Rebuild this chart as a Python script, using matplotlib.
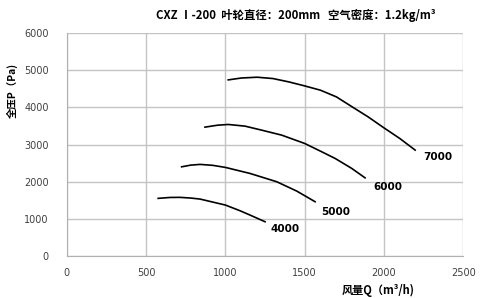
import matplotlib.pyplot as plt

plt.rcParams['font.family'] = ['Noto Sans CJK SC', 'DejaVu Sans']

# Fan curves: flow Q (m3/h) vs total pressure P (Pa)
q_7000 = [1018, 1100, 1200, 1300, 1400, 1500, 1600, 1700, 1800, 1900, 2000, 2100, 2197]
p_7000 = [4740, 4790, 4812, 4776, 4686, 4578, 4462, 4283, 4013, 3745, 3449, 3163, 2850]

q_6000 = [871, 950, 1018, 1124, 1229, 1355, 1500, 1608, 1692, 1797, 1881]
p_6000 = [3468, 3520, 3540, 3495, 3387, 3253, 3029, 2804, 2626, 2357, 2103]

q_5000 = [724, 780, 840, 920, 1000, 1155, 1324, 1450, 1566]
p_5000 = [2400, 2445, 2465, 2440, 2384, 2222, 1998, 1747, 1460]

q_4000 = [576, 650, 713, 780, 840, 1000, 1092, 1155, 1250]
p_4000 = [1551, 1575, 1578, 1560, 1532, 1371, 1218, 1102, 922]

speeds = ['7000', '6000', '5000', '4000']
label_q = [2245, 1932, 1604, 1282]
label_p = [2653, 1863, 1191, 726]

x_ticks = [0, 500, 1000, 1500, 2000, 2500]
y_ticks = [0, 1000, 2000, 3000, 4000, 5000, 6000]

fig = plt.figure(figsize=(4.81, 2.98), dpi=100)
ax = fig.add_axes([0.139, 0.141, 0.824, 0.748])

for q, p in [(q_7000, p_7000), (q_6000, p_6000), (q_5000, p_5000), (q_4000, p_4000)]:
    ax.plot(q, p, color='black', linewidth=1.2, solid_joinstyle='round')

for s, lq, lp in zip(speeds, label_q, label_p):
    ax.text(lq, lp, s, fontsize=7.5, fontweight='bold', family='DejaVu Sans',
            ha='left', va='center', color='black')

ax.set_xlim(0, 2500)
ax.set_ylim(0, 6000)
ax.set_xticks(x_ticks)
ax.set_yticks(y_ticks)
ax.grid(True, color='#c4c4c4', linewidth=1)
ax.set_axisbelow(True)
for side in ['top', 'right']:
    ax.spines[side].set_visible(False)
for side in ['left', 'bottom']:
    ax.spines[side].set_color('#b0b0b0')
ax.tick_params(axis='both', length=0, labelsize=7, labelcolor='#404040')
ax.tick_params(axis='y', pad=13)
ax.tick_params(axis='x', pad=9)
for lbl in ax.get_xticklabels() + ax.get_yticklabels():
    lbl.set_family('DejaVu Sans')

fig.text(296 / 481, 1 - 15 / 298, 'CXZ Ⅰ-200  叶轮直径：200mm   空气密度：1.2kg/m³',
         ha='center', va='center', fontsize=8.2, fontweight='bold')
fig.text(12 / 481, 1 - 90 / 298, '全压P（Pa)', rotation=90,
         ha='center', va='center', fontsize=7.5, fontweight='bold')
fig.text(378 / 481, 1 - 290 / 298, '风量Q（m³/h)',
         ha='center', va='center', fontsize=8, fontweight='bold')

fig.savefig('out.png', dpi=100)
